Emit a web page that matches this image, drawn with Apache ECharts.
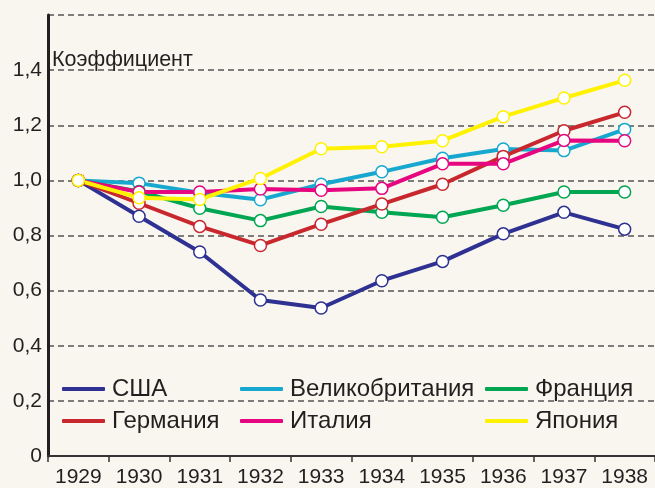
<!DOCTYPE html>
<html>
<head>
<meta charset="utf-8">
<script src="https://cdn.jsdelivr.net/npm/echarts@6/dist/echarts.min.js"></script>
<style>
html,body{margin:0;padding:0;background:#f8f6ef;}
#c{width:655px;height:488px;}
</style>
</head>
<body>
<div id="c"></div>
<script>
var years = ['1929','1930','1931','1932','1933','1934','1935','1936','1937','1938'];
var usa     = [1.00, 0.87, 0.74, 0.566, 0.537, 0.636, 0.706, 0.806, 0.884, 0.823];
var britain = [1.00, 0.99, 0.955, 0.93, 0.986, 1.031, 1.080, 1.114, 1.108, 1.185];
var france  = [1.00, 0.96, 0.899, 0.854, 0.905, 0.884, 0.866, 0.910, 0.958, 0.958];
var germany = [1.00, 0.917, 0.833, 0.764, 0.841, 0.914, 0.986, 1.087, 1.180, 1.247];
var italy   = [1.00, 0.958, 0.958, 0.969, 0.964, 0.971, 1.060, 1.060, 1.145, 1.144];
var japan   = [1.00, 0.937, 0.931, 1.007, 1.115, 1.122, 1.144, 1.231, 1.299, 1.363];
var yTicks = [0, 0.2, 0.4, 0.6, 0.8, 1.0, 1.2, 1.4, 1.6];

var names = {usa:'США', britain:'Великобритания', france:'Франция', germany:'Германия', italy:'Италия', japan:'Япония'};
var colors = {usa:'#2e3192', britain:'#17a8d0', france:'#00a651', germany:'#c8272e', italy:'#e6067f', japan:'#fff200'};
var font = 'Liberation Sans, Arial, sans-serif';
var txt = '#231f20';

function mk(key, data){
  return {
    name: names[key], type:'line', data: data,
    symbol:'circle', symbolSize:12,
    lineStyle:{width:4, color: colors[key]},
    itemStyle:{color:'#ffffff', borderColor: colors[key], borderWidth:1.5},
    emphasis:{disabled:true},
    z: 2
  };
}
function leg(left, items){
  return {
    orient:'vertical', left:left, top:372, itemWidth:43, itemHeight:4, itemGap:8,
    icon:'roundRect', selectedMode:false,
    textStyle:{fontFamily:font, fontSize:24, color:txt, lineHeight:24, padding:[0,0,0,2]},
    data: items.map(function(k){return {name:names[k], itemStyle:{color:colors[k], borderWidth:0}};})
  };
}

var chart = echarts.init(document.getElementById('c'), null, {renderer:'canvas'});
chart.setOption({
  backgroundColor:'#f8f6ef',
  animation:false,
  title:{text:'Коэффициент', left:47, top:44, textStyle:{fontFamily:font, fontSize:21.5, fontWeight:'normal', color:txt}},
  grid:{left:48, right:-3, top:15, bottom:29},
  legend:[leg(57,['usa','germany']), leg(235,['britain','italy']), leg(480,['france','japan'])],
  xAxis:{
    type:'category', data:years, boundaryGap:true,
    axisLine:{lineStyle:{color:'#333', width:2}},
    axisTick:{show:true, length:6, interval:0, lineStyle:{color:'#333', width:1.5}},
    axisLabel:{fontFamily:font, fontSize:21, color:txt, margin:11, interval:0}
  },
  yAxis:{
    type:'value', min:yTicks[0], max:yTicks[yTicks.length-1], interval:0.2,
    axisLine:{show:true, lineStyle:{color:'#231f20', width:3}},
    axisTick:{show:false},
    axisLabel:{fontFamily:font, fontSize:21, color:txt, margin:6,
      formatter:function(v){ if (Math.abs(v-1.6)<1e-6) return ''; if (v===0) return '0'; return v.toFixed(1).replace('.',','); }},
    splitLine:{show:true, lineStyle:{color:'#555', width:1.5, type:[6,4]}}
  },
  series:[mk('usa',usa), mk('britain',britain), mk('france',france), mk('germany',germany), mk('italy',italy), mk('japan',japan)]
});
</script>
</body>
</html>
